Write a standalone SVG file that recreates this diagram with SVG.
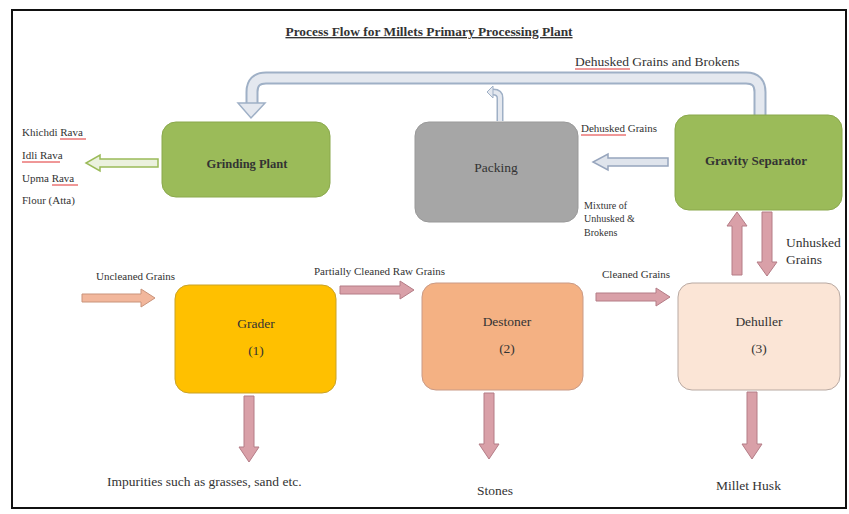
<svg xmlns="http://www.w3.org/2000/svg" width="849" height="514" viewBox="0 0 849 514">
<style>
text{font-family:"Liberation Serif","Times New Roman",serif;fill:#333}
.lbl{font-size:11px}
.lbls{font-size:10px}
.lbl13{font-size:13.5px}
.node{font-size:13.5px;text-anchor:middle}
.pink{fill:#d9a0a8;stroke:#b47c86;stroke-width:1}
.red{stroke:#e03030;stroke-width:1}
</style>
<rect x="0" y="0" width="849" height="514" fill="#fff"/>
<rect x="12" y="10" width="834" height="498" fill="none" stroke="#111" stroke-width="2"/>
<text x="429" y="36" text-anchor="middle" font-family="Liberation Serif, serif" style="font-size:13.4px;font-weight:bold;text-decoration:underline" fill="#333">Process Flow for Millets Primary Processing Plant</text>

<g id="connectors">
  <!-- big return arrow -->
  <path d="M760 116 V92 Q760 78 746 78 H266 Q252 78 252 92 V104" fill="none" stroke="#9fb0c6" stroke-width="13"/>
  <path d="M760 116 V92 Q760 78 746 78 H266 Q252 78 252 92 V105" fill="none" stroke="#e4e8ef" stroke-width="9"/>
  <polygon points="238,103 265,103 251,118" fill="#e4e8ef" stroke="#9fb0c6" stroke-width="1.5"/>
  <!-- packing small arrow -->
  <path d="M500 121 V98 Q500 92 493 92" fill="none" stroke="#9fb0c6" stroke-width="7"/>
  <path d="M500 121 V98 Q500 92 493 92" fill="none" stroke="#e4e8ef" stroke-width="4"/>
  <polygon points="493,86 487,92 493,98" fill="#e4e8ef" stroke="#9fb0c6" stroke-width="1"/>
  <!-- grinding -> left products -->
  <polygon points="158,159 100,159 100,155 86,163 100,171 100,167 158,167" fill="#ebf1de" stroke="#9bbb59" stroke-width="1.5"/>
  <!-- gravity -> packing -->
  <polygon points="668,158 608,158 608,154 593,162 608,170 608,166 668,166" fill="#dfe4ec" stroke="#97a5bd" stroke-width="1.5"/>
  <!-- uncleaned -->
  <polygon points="82,294 141,294 141,289 155,298 141,307 141,302 82,302" fill="#f2b79c" stroke="#c9937a" stroke-width="1"/>
  <!-- partially cleaned -->
  <polygon class="pink" points="340,286 400,286 400,281 414,290 400,299 400,294 340,294"/>
  <!-- cleaned -->
  <polygon class="pink" points="596,293 656,293 656,288 670,297 656,306 656,301 596,301"/>
  <!-- dehuller <-> gravity -->
  <polygon class="pink" points="732,275 732,226 727,226 737,212 747,226 742,226 742,275"/>
  <polygon class="pink" points="762,212 762,262 757,262 767,276 777,262 772,262 772,212"/>
  <!-- down arrows -->
  <polygon class="pink" points="244,396 244,447 239,447 249,462 259,447 254,447 254,396"/>
  <polygon class="pink" points="484,393 484,444 479,444 489,459 499,444 494,444 494,393"/>
  <polygon class="pink" points="747,392 747,444 742,444 752,459 762,444 757,444 757,392"/>
</g>

<g id="grinding">
  <rect x="162" y="122" width="168" height="75" rx="14" fill="#9bbb59" stroke="#8aa84c" stroke-width="1"/>
  <text class="node" x="247" y="168" style="font-weight:bold;font-size:12.5px" fill="#3d5a1a">Grinding Plant</text>
</g>
<g id="packing">
  <rect x="415" y="122" width="163" height="100" rx="14" fill="#a6a6a6" stroke="#999" stroke-width="1"/>
  <text class="node" x="496" y="172">Packing</text>
</g>
<g id="gravity">
  <rect x="675" y="115" width="167" height="95" rx="14" fill="#9bbb59" stroke="#8aa84c" stroke-width="1"/>
  <text class="node" x="756" y="165" style="font-weight:bold;font-size:13px" fill="#2f4a14">Gravity Separator</text>
</g>
<g id="grader">
  <rect x="175" y="285" width="161" height="108" rx="14" fill="#ffc000" stroke="#c9a227" stroke-width="1"/>
  <text class="node" x="256" y="328">Grader</text>
  <text class="node" x="256" y="355">(1)</text>
</g>
<g id="destoner">
  <rect x="422" y="283" width="161" height="107" rx="14" fill="#f4b183" stroke="#c99a86" stroke-width="1"/>
  <text class="node" x="507" y="326">Destoner</text>
  <text class="node" x="507" y="353">(2)</text>
</g>
<g id="dehuller">
  <rect x="678" y="283" width="162" height="107" rx="14" fill="#fbe5d6" stroke="#b8a9a2" stroke-width="1"/>
  <text class="node" x="759" y="326">Dehuller</text>
  <text class="node" x="759" y="353">(3)</text>
</g>

<g id="labels">
  <text class="lbl13" x="575" y="66">Dehusked Grains and Brokens</text>
  <line class="red" x1="575" y1="69" x2="630" y2="69"/>
  <text class="lbl" x="22" y="136">Khichdi Rava</text>
  <line class="red" x1="60" y1="139" x2="86" y2="139"/>
  <text class="lbl" x="22" y="159">Idli Rava</text>
  <line class="red" x1="22" y1="162" x2="60" y2="162"/>
  <text class="lbl" x="22" y="182">Upma Rava</text>
  <line class="red" x1="52" y1="185" x2="78" y2="185"/>
  <text class="lbl" x="22" y="204">Flour (Atta)</text>
  <text class="lbl" x="581" y="132">Dehusked Grains</text>
  <line class="red" x1="581" y1="135" x2="626" y2="135"/>
  <text class="lbls" x="584" y="209">Mixture of</text>
  <text class="lbls" x="584" y="222">Unhusked &amp;</text>
  <text class="lbls" x="584" y="236">Brokens</text>
  <text class="lbl13" x="786" y="247">Unhusked</text>
  <text class="lbl13" x="786" y="264">Grains</text>
  <text class="lbl" x="96" y="280">Uncleaned Grains</text>
  <text class="lbl" x="314" y="275">Partially Cleaned Raw Grains</text>
  <text class="lbl" x="602" y="278">Cleaned Grains</text>
  <text class="lbl13" x="107" y="486">Impurities such as grasses, sand etc.</text>
  <text class="lbl13" x="477" y="495">Stones</text>
  <text class="lbl13" x="716" y="490">Millet Husk</text>
</g>
</svg>
